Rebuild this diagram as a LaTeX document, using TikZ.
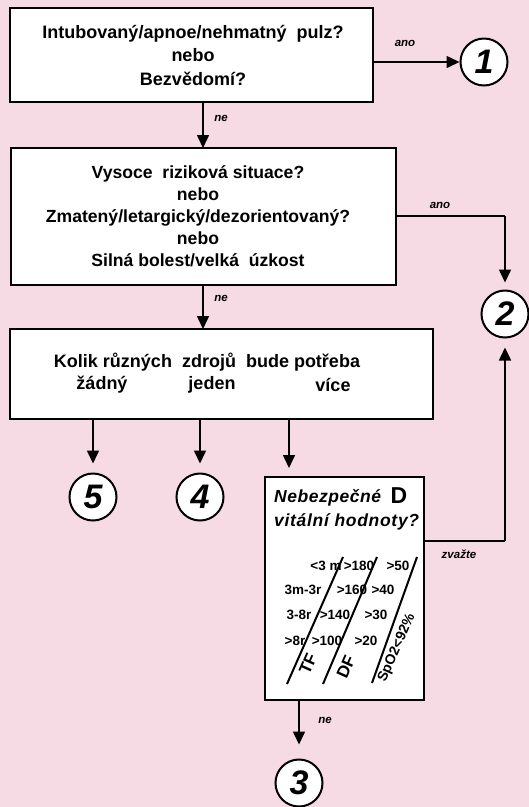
\documentclass[tikz,border=0pt]{standalone}
\usepackage{fontspec}
\setmainfont{Liberation Sans}
\usetikzlibrary{arrows.meta}
\definecolor{bgpink}{RGB}{246,218,228}
\begin{document}
\begin{tikzpicture}[x=1pt,y=-1pt,
  box/.style={draw=black,line width=2pt,fill=white,inner sep=0pt},
  num/.style={draw=black,line width=2pt,fill=white,circle,minimum size=47pt,inner sep=0pt,font=\fontsize{34}{34}\selectfont\bfseries\itshape},
  arr/.style={line width=1.6pt,-{Triangle[length=13pt,width=12pt]}},
  lin/.style={line width=1.6pt},
  lbl/.style={font=\fontsize{11.5}{11.5}\selectfont\bfseries\itshape},
  txt/.style={font=\fontsize{18}{23.5}\selectfont\bfseries,align=center},
  tab/.style={font=\fontsize{13.5}{13.5}\selectfont\bfseries,inner sep=0pt},
  slant/.style={line width=2pt}]
\fill[bgpink] (0,0) rectangle (529,807);
\useasboundingbox (0,0) rectangle (529,807);
% boxes
\node[box,minimum width=363pt,minimum height=94pt] (b1) at (191.5,55) {};
\node[txt] (b1t) at (193,55) {Intubovaný/apnoe/nehmatný\ \ pulz?\\nebo\\Bezvědomí?};
\node[box,minimum width=385pt,minimum height=137pt] (b2) at (203.5,216.5) {};
\node[txt,font=\fontsize{17.6}{22}\selectfont\bfseries] (b2t) at (198,216) {Vysoce\ \ riziková situace?\\nebo\\Zmatený/letargický/dezorientovaný?\\nebo\\Silná bolest/velká\ \ úzkost};
\node[box,minimum width=423pt,minimum height=90pt] (b3) at (221.5,374) {};
\node[txt] (b3t) at (207,362) {Kolik různých\ \ zdrojů\ \ bude potřeba};
\node[txt] (z0) at (102,385) {žádný};
\node[txt] (z1) at (212,385) {jeden};
\node[txt] (z2) at (333,385) {více};
\node[box,minimum width=159pt,minimum height=223pt] (bd) at (344.5,588.5) {};
\node[font=\fontsize{17.5}{17.5}\selectfont\bfseries\itshape\addfontfeatures{LetterSpace=3},anchor=west,inner sep=0pt] (dn) at (274,498) {Nebezpečné};
\node[font=\fontsize{23}{23}\selectfont\bfseries,inner sep=0pt] (dd) at (399,496) {D};
\node[font=\fontsize{17.5}{17.5}\selectfont\bfseries\itshape\addfontfeatures{LetterSpace=4},anchor=west,inner sep=0pt] (dv) at (274,522) {vitální hodnoty?};
% table
\node[tab] (r11) at (326,566) {<3 m};
\node[tab] (r12) at (359,566) {>180};
\node[tab] (r13) at (398,566) {>50};
\node[tab] (r21) at (303,590) {3m-3r};
\node[tab] (r22) at (352,590) {>160};
\node[tab] (r23) at (383,590) {>40};
\node[tab] (r31) at (299,615) {3-8r};
\node[tab] (r32) at (335,615) {>140};
\node[tab] (r33) at (376,615) {>30};
\node[tab] (r41) at (295,641) {>8r};
\node[tab] (r42) at (327,641) {>100};
\node[tab] (r43) at (366,641) {>20};
\coordinate (l1a) at (287,684); \coordinate (l1b) at (343,557);
\coordinate (l2a) at (323,684); \coordinate (l2b) at (377,557);
\coordinate (l3a) at (372,683); \coordinate (l3b) at (417,557);
\draw[slant] (l1a) -- (l1b);
\draw[slant] (l2a) -- (l2b);
\draw[slant] (l3a) -- (l3b);
\node[font=\fontsize{17}{17}\selectfont\bfseries,rotate=66,inner sep=0pt] (tf) at (308,664) {TF};
\node[font=\fontsize{17}{17}\selectfont\bfseries,rotate=66,inner sep=0pt] (df) at (346,667) {DF};
\node[font=\fontsize{14}{14}\selectfont\bfseries,rotate=66,inner sep=0pt] (sp) at (397,648) {SpO2<92\%};
% circles
\node[num] (c1) at (484,62) {1};
\node[num] (c2) at (505,314) {2};
\node[num] (c5) at (93,497) {5};
\node[num] (c4) at (200,497) {4};
\node[num] (c3) at (299,783) {3};
% connectors
\coordinate (k1) at (203,148);
\coordinate (k2) at (505,216);
\coordinate (k4) at (203,329);
\coordinate (k3) at (289,477);
\coordinate (kd) at (505,541);
\draw[arr] (b1.east |- c1) -- (c1.west);
\node[lbl] (a1) at (405,43) {ano};
\draw[arr] (b1.south -| k1) -- (k1);
\node[lbl] (n1) at (221,118) {ne};
\draw[lin] (b2.east |- k2) -- (k2);
\draw[arr,shorten >=7pt] (k2) -- (c2.north);
\node[lbl] (a2) at (440,205) {ano};
\draw[arr] (b2.south -| k4) -- (k4);
\node[lbl] (n2) at (221,298) {ne};
\draw[arr,shorten >=9pt] (b3.south -| c5) -- (c5.north);
\draw[arr,shorten >=9pt] (b3.south -| c4) -- (c4.north);
\draw[arr,shorten >=9pt] (b3.south -| k3) -- (k3);
\draw[lin] (bd.east |- kd) -- (kd);
\draw[arr,shorten >=9pt] (kd) -- (c2.south);
\node[lbl] (zv) at (459,554) {zvažte};
\draw[arr,shorten >=14pt] (bd.south -| c3) -- (c3.north);
\node[lbl] (n3) at (325,720) {ne};
\end{tikzpicture}
\end{document}
